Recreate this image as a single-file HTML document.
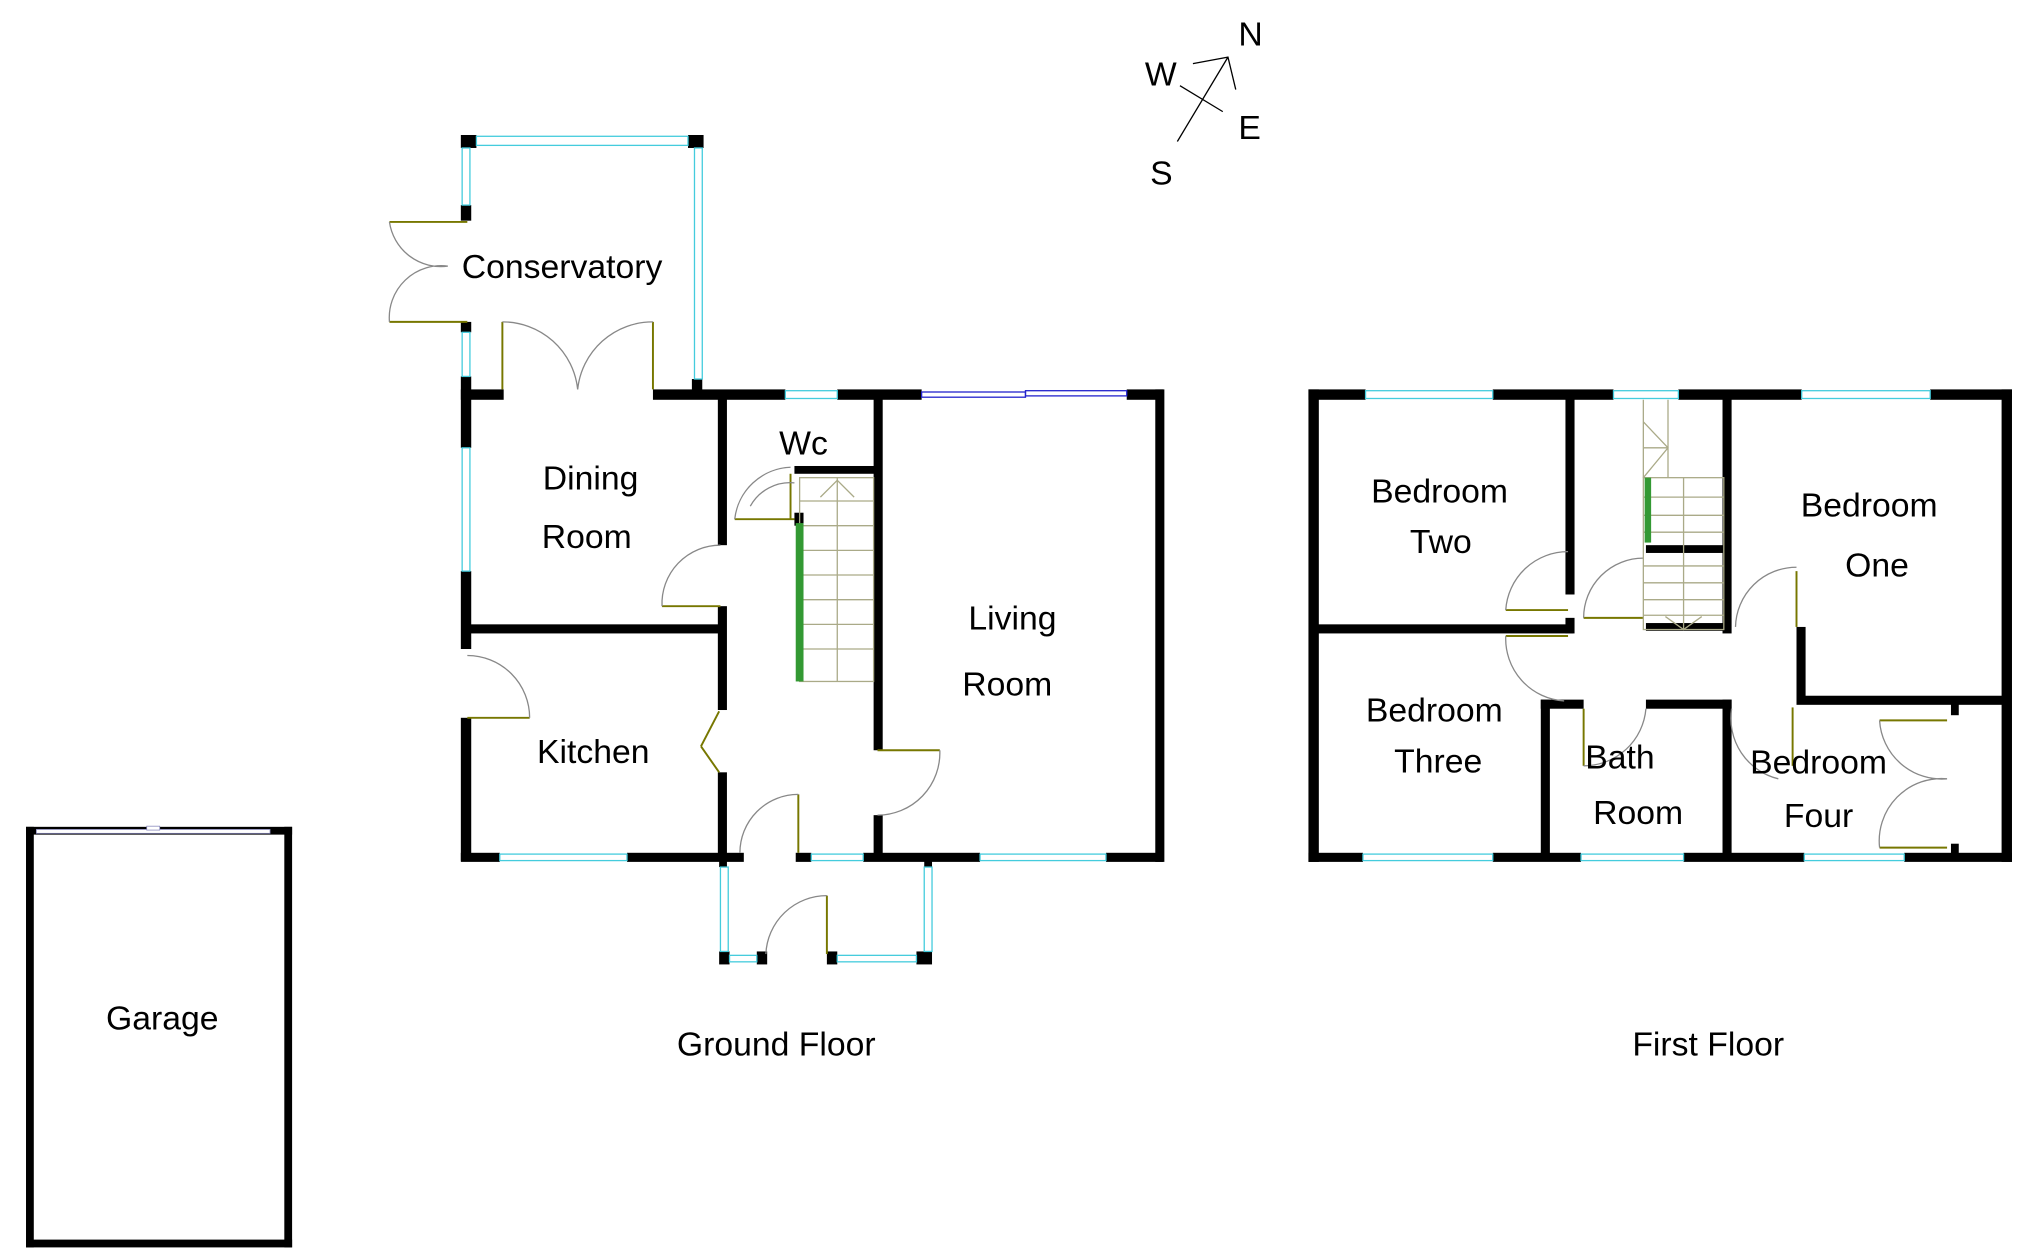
<!DOCTYPE html>
<html><head><meta charset="utf-8"><style>html,body{margin:0;padding:0;background:#fff}svg{display:block}text{font-family:"Liberation Sans",sans-serif;font-size:26px;fill:#000}</style></head><body>
<svg width="2025" height="1257" viewBox="0 0 1560 968.4" xmlns="http://www.w3.org/2000/svg">
<rect width="1560" height="969" fill="#fff"/>
<g fill="#000">
<rect x="355" y="104" width="12" height="10"/><rect x="530" y="104" width="12" height="10"/>
<rect x="355" y="158" width="8" height="12"/><rect x="355" y="248" width="8" height="8"/>
<rect x="533" y="292" width="8" height="12"/>
<rect x="355" y="300" width="33" height="8"/>
<rect x="503" y="300" width="102" height="8"/>
<rect x="645" y="300" width="65" height="8"/>
<rect x="868" y="300" width="28" height="8"/>
<rect x="355" y="290" width="8" height="55"/>
<rect x="355" y="440" width="8" height="60"/>
<rect x="355" y="553" width="8" height="110"/>
<rect x="360" y="481" width="197" height="7"/>
<rect x="553" y="304" width="7" height="116"/>
<rect x="553" y="467" width="7" height="80"/>
<rect x="553" y="595" width="7" height="68"/>
<rect x="355" y="657" width="30" height="7"/>
<rect x="483" y="657" width="90" height="7"/>
<rect x="613" y="657" width="12" height="7"/>
<rect x="665" y="657" width="90" height="7"/>
<rect x="852" y="657" width="44" height="7"/>
<rect x="673" y="304" width="7" height="274"/>
<rect x="673" y="628" width="7" height="35"/>
<rect x="612" y="359" width="64" height="6"/>
<rect x="890" y="300" width="7" height="364"/>
<rect x="612" y="395" width="7" height="10"/>
<rect x="554" y="733" width="8" height="10"/><rect x="583" y="733" width="8" height="10"/>
<rect x="637" y="733" width="8" height="10"/><rect x="706" y="733" width="12" height="10"/>
<rect x="712" y="660" width="6" height="8"/><rect x="554" y="660" width="6" height="8"/>
<rect x="1008" y="300" width="44" height="8"/><rect x="1150" y="300" width="93" height="8"/>
<rect x="1293" y="300" width="95" height="8"/><rect x="1487" y="300" width="63" height="8"/>
<rect x="1008" y="300" width="8" height="364"/><rect x="1542" y="300" width="8" height="364"/>
<rect x="1008" y="657" width="42" height="7"/><rect x="1150" y="657" width="68" height="7"/>
<rect x="1297" y="657" width="93" height="7"/><rect x="1467" y="657" width="83" height="7"/>
<rect x="1012" y="481" width="200" height="7"/>
<rect x="1206" y="304" width="7" height="154"/><rect x="1206" y="476" width="7" height="12"/>
<rect x="1327" y="304" width="7" height="184"/>
<rect x="1268" y="420" width="62" height="6"/><rect x="1268" y="480" width="62" height="6"/>
<rect x="1384" y="483" width="7" height="56"/>
<rect x="1384" y="536" width="162" height="7"/>
<rect x="1187" y="539" width="7" height="122"/><rect x="1187" y="539" width="33" height="7"/>
<rect x="1268" y="539" width="66" height="7"/><rect x="1327" y="539" width="7" height="122"/>
<rect x="1503" y="541" width="6" height="10"/><rect x="1503" y="650" width="6" height="10"/>
<rect x="20" y="637" width="205" height="6"/><rect x="20" y="637" width="6" height="324"/>
<rect x="219" y="637" width="6" height="324"/><rect x="20" y="955" width="205" height="6"/>
</g>
<g fill="#fff" stroke="#4cd" stroke-width="1">
<rect x="367" y="105" width="163" height="7"/>
<rect x="356" y="114" width="6" height="44"/><rect x="356" y="256" width="6" height="34"/>
<rect x="535" y="114" width="6" height="178"/>
<rect x="356" y="345" width="6" height="95"/>
<rect x="605" y="301" width="40" height="6"/>
<rect x="385" y="658" width="98" height="5"/><rect x="625" y="658" width="40" height="5"/><rect x="755" y="658" width="97" height="5"/>
<rect x="555" y="668" width="6" height="65"/><rect x="712" y="668" width="6" height="65"/>
<rect x="562" y="736" width="21" height="5"/><rect x="645" y="736" width="61" height="5"/>
<rect x="1052" y="301" width="98" height="6"/><rect x="1243" y="301" width="50" height="6"/><rect x="1388" y="301" width="99" height="6"/>
<rect x="1050" y="658" width="100" height="5"/><rect x="1218" y="658" width="79" height="5"/><rect x="1390" y="658" width="77" height="5"/>
</g>
<g fill="none" stroke="#22c" stroke-width="1"><rect x="710" y="302" width="80" height="4"/><rect x="790" y="301" width="78" height="4"/></g>
<rect x="28" y="639" width="180" height="3" fill="#fff" stroke="#88b" stroke-width="0.6"/>
<rect x="113" y="636.5" width="10" height="3" fill="#fff" stroke="#88b" stroke-width="0.6"/>
<g fill="none" stroke="#770" stroke-width="1.5">
<line x1="300" y1="171" x2="360" y2="171"/><line x1="300" y1="248" x2="360" y2="248"/>
<line x1="387" y1="248" x2="387" y2="300"/><line x1="503" y1="248" x2="503" y2="300"/>
<line x1="510" y1="467" x2="555" y2="467"/>
<line x1="360" y1="553" x2="408" y2="553"/>
<line x1="676" y1="578" x2="724" y2="578"/>
<line x1="615" y1="612" x2="615" y2="657"/>
<line x1="637" y1="690" x2="637" y2="735"/>
<line x1="566" y1="400" x2="612" y2="400"/><line x1="609" y1="365" x2="609" y2="400"/>
<line x1="1160" y1="470" x2="1208" y2="470"/><line x1="1160" y1="490" x2="1208" y2="490"/>
<line x1="1220" y1="476" x2="1266" y2="476"/>
<line x1="1384" y1="440" x2="1384" y2="483"/>
<line x1="1220" y1="546" x2="1220" y2="590"/>
<line x1="1381" y1="545" x2="1381" y2="590"/>
<line x1="1448" y1="555" x2="1500" y2="555"/><line x1="1448" y1="653" x2="1500" y2="653"/>
<line x1="554" y1="548" x2="540" y2="575"/><line x1="540" y1="575" x2="554" y2="595"/>
</g>
<g fill="none" stroke="#888" stroke-width="1">
<path d="M300 171 A40 40 0 0 0 345 205 M300 248 A40 40 0 0 1 345 205"/>
<path d="M387 248 A58 58 0 0 1 445 300 M503 248 A58 58 0 0 0 445 300"/>
<path d="M510 467 A45 45 0 0 1 555 420"/>
<path d="M360 505 A48 48 0 0 1 408 553"/>
<path d="M676 628 A48 48 0 0 0 724 578"/>
<path d="M570 657 A45 45 0 0 1 615 612"/>
<path d="M590 735 A47 47 0 0 1 637 690"/>
<path d="M566 400 A45 45 0 0 1 609 360 M578 390 A35 35 0 0 1 612 372"/>
<path d="M1160 470 A48 48 0 0 1 1208 425 M1160 490 A48 48 0 0 0 1205 540"/>
<path d="M1220 476 A46 46 0 0 1 1266 430"/>
<path d="M1337 483 A47 47 0 0 1 1384 437"/>
<path d="M1220 590 A48 48 0 0 0 1268 546"/>
<path d="M1334 546 A48 48 0 0 0 1370 600"/>
<path d="M1448 555 A48 48 0 0 0 1500 600 M1448 653 A48 48 0 0 1 1500 600"/>
</g>
<g fill="none" stroke="#aa8" stroke-width="1">
<rect x="616" y="368" width="57" height="157"/>
<line x1="645" y1="368" x2="645" y2="525"/>
<path d="M616 386H673M616 405H673M616 424H673M616 443H673M616 462H673M616 481H673M616 500H673"/>
<path d="M632 383 L645 370 L658 383"/>
<rect x="1266" y="368" width="62" height="117"/><line x1="1297" y1="368" x2="1297" y2="485"/>
<path d="M1266 383H1328M1266 397H1328M1266 410H1328M1266 436H1328M1266 449H1328M1266 462H1328M1266 474H1328"/>
<path d="M1266 308V368M1285 308V368M1266 325L1285 345L1266 368M1266 345H1285"/>
<path d="M1283 475 L1297 485 L1311 475"/>
</g>
<rect x="613" y="403" width="6" height="122" fill="#393"/>
<rect x="1267" y="368" width="5" height="50" fill="#393"/>
<g stroke="#000" stroke-width="1" fill="none"><path d="M907 109 L946 44 M919 49 L946 44 L952 69 M909 66 L942 86"/></g>
<text x="954" y="35" font-size="20">N</text><text x="882" y="66" font-size="20">W</text>
<text x="954" y="107" font-size="20">E</text><text x="886" y="142" font-size="20">S</text>
<g text-anchor="middle">
<text x="433" y="214">Conservatory</text>
<text x="619" y="350">Wc</text>
<text x="455" y="377">Dining</text><text x="452" y="422">Room</text>
<text x="457" y="588">Kitchen</text>
<text x="780" y="485">Living</text><text x="776" y="536">Room</text>
<text x="1109" y="387">Bedroom</text><text x="1110" y="426">Two</text>
<text x="1440" y="398">Bedroom</text><text x="1446" y="444">One</text>
<text x="1105" y="556">Bedroom</text><text x="1108" y="595">Three</text>
<text x="1248" y="592">Bath</text><text x="1262" y="635">Room</text>
<text x="1401" y="596">Bedroom</text><text x="1401" y="637">Four</text>
<text x="125" y="793">Garage</text>
<text x="598" y="813">Ground Floor</text>
<text x="1316" y="813">First Floor</text>
</g>
</svg>
</body></html>
